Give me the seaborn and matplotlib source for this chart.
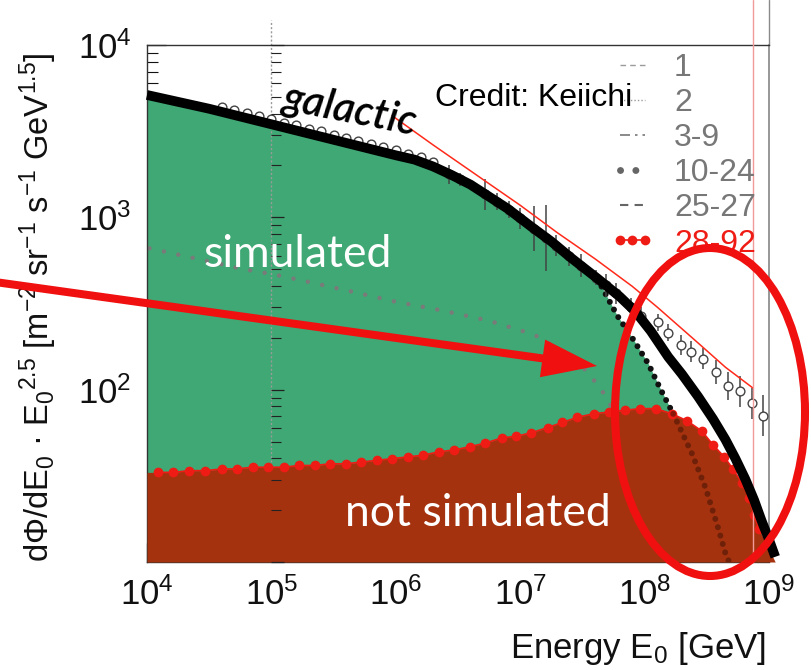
import numpy as np
import pandas as pd
import matplotlib
matplotlib.use("Agg")
import matplotlib.pyplot as plt
import matplotlib.patches as mpatches
import matplotlib.transforms as mtransforms
from matplotlib.lines import Line2D
import seaborn as sns

# ---------------- data (log10 values) ----------------
total_logE = [4.0, 4.5, 5.0, 5.5, 5.75, 6.0, 6.15, 6.3, 6.45, 6.6, 6.75, 6.9, 7.1, 7.25, 7.4, 7.63,
              7.8, 7.93, 8.05, 8.19, 8.3, 8.43, 8.55, 8.65, 8.73, 8.81, 8.88, 8.94, 9.0, 9.05]
total_logF = [3.71, 3.63, 3.54, 3.45, 3.405, 3.36, 3.335, 3.295, 3.245, 3.19, 3.12, 3.05, 2.94, 2.86, 2.77, 2.64,
              2.54, 2.45, 2.34, 2.19, 2.09, 1.96, 1.83, 1.71, 1.60, 1.48, 1.36, 1.24, 1.13, 1.03]

sim_logE = [4.0, 4.5, 5.0, 5.5, 5.75, 6.0, 6.15, 6.3, 6.45, 6.6, 6.75, 6.9, 7.1, 7.25, 7.4, 7.63,
            7.78, 7.91, 8.03, 8.13, 8.23, 8.38, 8.49, 8.59, 8.65, 8.68]
sim_logF = [3.71, 3.63, 3.54, 3.45, 3.405, 3.36, 3.335, 3.295, 3.245, 3.19, 3.12, 3.05, 2.94, 2.86, 2.77, 2.63,
            2.43, 2.29, 2.15, 2.00, 1.86, 1.63, 1.43, 1.20, 1.05, 1.00]

light_logE = [4.02, 4.40, 4.77, 5.01, 5.27, 5.64, 6.00, 6.37, 6.75, 7.11, 7.23, 7.40, 7.53, 7.62, 7.69, 7.80]
light_logF = [2.82, 2.76, 2.70, 2.67, 2.63, 2.57, 2.51, 2.46, 2.40, 2.32, 2.27, 2.20, 2.11, 2.03, 1.96, 1.80]

heavy_logE = [4.09, 4.21, 4.34, 4.47, 4.60, 4.72, 4.85, 4.97, 5.10, 5.22, 5.35, 5.47, 5.60, 5.72,
              5.85, 5.97, 6.10, 6.22, 6.35, 6.47, 6.60, 6.72, 6.85, 6.97, 7.09, 7.22, 7.34, 7.46,
              7.59, 7.71, 7.84, 7.96, 8.09, 8.22, 8.34, 8.46, 8.55, 8.64, 8.71, 8.78, 8.84, 8.88, 8.92]
heavy_logF = [1.52, 1.52, 1.53, 1.53, 1.54, 1.54, 1.55, 1.55, 1.55, 1.56, 1.56, 1.57, 1.57, 1.58,
              1.59, 1.60, 1.61, 1.62, 1.64, 1.65, 1.67, 1.69, 1.72, 1.73, 1.75, 1.78, 1.81, 1.84,
              1.86, 1.87, 1.88, 1.89, 1.89, 1.86, 1.82, 1.76, 1.68, 1.61, 1.54, 1.46, 1.37, 1.27, 1.19]
heavy_fill_logE = [4.0] + heavy_logE + [9.05]
heavy_fill_logF = [1.52] + heavy_logF + [1.00]

model_logE = [5.97, 6.3, 6.6, 7.0, 7.3, 7.6, 7.9, 8.1, 8.4, 8.65, 8.87]
model_logF = [3.59, 3.42, 3.27, 3.07, 2.91, 2.76, 2.60, 2.48, 2.29, 2.13, 2.01]

pts_logE = [4.6, 4.7, 4.8, 4.9, 5.0, 5.1, 5.2, 5.3, 5.4, 5.5, 5.6, 5.7, 5.8, 5.9, 6.0, 6.1, 6.2, 6.3,
            6.43, 6.52, 6.72, 6.81, 6.91, 7.00, 7.11, 7.21, 7.29, 7.39, 7.49, 7.61, 7.69, 7.77, 7.89, 7.97,
            8.11, 8.19, 8.29, 8.37, 8.47, 8.57, 8.67, 8.77, 8.86, 8.95]
pts_logF = [3.64, 3.625, 3.605, 3.59, 3.57, 3.55, 3.535, 3.515, 3.50, 3.48, 3.46, 3.445, 3.425, 3.41, 3.39, 3.37, 3.35, 3.32,
            3.25, 3.22, 3.135, 3.09, 3.045, 2.995, 2.935, 2.88, 2.835, 2.775, 2.72, 2.65, 2.605, 2.56, 2.48, 2.43,
            2.39, 2.33, 2.26, 2.22, 2.18, 2.10, 2.02, 1.99, 1.92, 1.85]
pts_err = [0.01, 0.01, 0.01, 0.01, 0.01, 0.01, 0.01, 0.01, 0.01, 0.01, 0.01, 0.01, 0.01, 0.01, 0.01, 0.01, 0.01, 0.015,
           0.055, 0.04, 0.09, 0.05, 0.05, 0.06, 0.13, 0.19, 0.06, 0.055, 0.065, 0.045, 0.065, 0.06, 0.05, 0.05,
           0.05, 0.05, 0.06, 0.06, 0.06, 0.07, 0.08, 0.09, 0.09, 0.12]

legend_labels = ["1", "2", "3-9", "10-24", "25-27", "28-92"]
xtick_vals = [1e4, 1e5, 1e6, 1e7, 1e8, 1e9]
ytick_vals = [1e2, 1e3, 1e4]
cut_energy_log = 8.87

# ---------------- style ----------------
sns.set_theme(style="ticks")
plt.rcParams["font.family"] = ["Liberation Sans", "DejaVu Sans"]
plt.rcParams["mathtext.fontset"] = "custom"
plt.rcParams["mathtext.rm"] = "Liberation Sans"
plt.rcParams["mathtext.it"] = "Liberation Sans:italic"
plt.rcParams["mathtext.default"] = "regular"

W, H = 812, 670
fig = plt.figure(figsize=(W / 100, H / 100), dpi=100)
L, R, T, B = 147, 769, 45, 562
ax = fig.add_axes([L / W, (H - B) / H, (R - L) / W, (B - T) / H])
ax.set_xscale("log")
ax.set_yscale("log")
ax.set_xlim(1e4, 1e9)
ax.set_ylim(10, 1e4)

def p10(a):
    return 10.0 ** np.asarray(a, dtype=float)

GREEN = "#3fa874"
RED_FILL = "#a5320f"
RED = "#ee1c14"

# green simulated region
ax.fill_between(p10(sim_logE), 10, p10(sim_logF), color=GREEN, lw=0, zorder=1)

# light component (grey dotted)
ax.plot(p10(light_logE), p10(light_logF), color="#7a7a7a", lw=3.2,
        ls=(0, (0.01, 3.3)), dash_capstyle="round", zorder=2)

# dense black dotted curve (high-energy boundary)
hi = [i for i, e in enumerate(sim_logE) if e >= 7.3]
ax.plot(p10([sim_logE[i] for i in hi]), p10([sim_logF[i] for i in hi]), color="#111111", lw=4.3,
        ls=(0, (0.01, 1.45)), dash_capstyle="round", zorder=2.5)

# data points with error bars
pE = p10(pts_logE)
pF = p10(pts_logF)
lo = pF - p10(np.array(pts_logF) - np.array(pts_err))
up = p10(np.array(pts_logF) + np.array(pts_err)) - pF
ax.errorbar(pE, pF, yerr=[lo, up], fmt="none", ecolor="#444444", elinewidth=1.1, zorder=3)
ax.plot(pE, pF, ls="none", marker="o", ms=6.3, mfc="white", mec="#444444", mew=1.0, zorder=3.2)

# red heavy (not simulated) region
ax.fill_between(p10(heavy_fill_logE), 10, p10(heavy_fill_logF), color=RED_FILL, lw=0,
                zorder=4, clip_on=False)
df_heavy = pd.DataFrame({"E": p10(heavy_logE), "F": p10(heavy_logF)})
sns.lineplot(data=df_heavy, x="E", y="F", ax=ax, color=RED, lw=1.2, marker="o",
             markersize=7, markeredgewidth=0, estimator=None, sort=False, zorder=5)

# dotted curve continuing inside the red region
inside = [i for i, e in enumerate(sim_logE) if e >= 8.23]
ax.plot(p10([sim_logE[i] for i in inside]), p10([sim_logF[i] for i in inside]),
        color="#4a1505", alpha=0.6, lw=4.3, ls=(0, (0.01, 1.45)), dash_capstyle="round", zorder=5.2)

# thin red model line
df_model = pd.DataFrame({"E": p10(model_logE), "F": p10(model_logF)})
sns.lineplot(data=df_model, x="E", y="F", ax=ax, color="#ff2a1a", lw=1.1,
             estimator=None, sort=False, zorder=5.5)

# thick black total line
df_total = pd.DataFrame({"E": p10(total_logE), "F": p10(total_logF)})
sns.lineplot(data=df_total, x="E", y="F", ax=ax, color="black", lw=7,
             estimator=None, sort=False, zorder=6)
ax.lines[-1].set_clip_on(False)
ax.lines[-1].set_solid_capstyle("butt")
ax.lines[-1].set_solid_joinstyle("round")

# vertical guide lines
ax.axvline(1e5, ymin=0, ymax=(B - 20) / (B - T), color="#9a9a9a", lw=1.0, ls=(0, (1.5, 1.5)),
           clip_on=False, zorder=2)
ax.axvline(p10(cut_energy_log), ymin=0, ymax=B / (B - T), color="#f29a9a", lw=1.0,
           clip_on=False, zorder=5.6)
ax.axvline(1e9, ymin=1, ymax=B / (B - T), color="#8a8a8a", lw=1.0, clip_on=False)

# axis cosmetics
ax.set_xticks(xtick_vals)
ax.set_yticks(ytick_vals)
ax.tick_params(axis="both", which="major", direction="in", length=14, width=0.9,
               labelsize=25, colors="#111111")
ax.tick_params(axis="both", which="minor", direction="in", length=8, width=0.8, colors="#111111")
ax.tick_params(axis="x", which="major", pad=11)
ax.tick_params(axis="y", which="major", pad=11)
for s in ["left", "bottom", "top"]:
    ax.spines[s].set_color("#333333")
    ax.spines[s].set_linewidth(1.0)
ax.spines["right"].set_color("#8a8a8a")
ax.set_xlabel("")
ax.set_ylabel("")

# small tick column along the 1e5 guide line
ax5 = fig.add_axes([(L + (R - L) / 5) / W, (H - B) / H, 0.0005, (B - T) / H])
ax5.set_yscale("log")
ax5.set_ylim(10, 1e4)
ax5.patch.set_visible(False)
for s in ax5.spines.values():
    s.set_visible(False)
ax5.set_xticks([])
ax5.tick_params(axis="y", which="both", direction="in", labelleft=False, color="#222222")
ax5.tick_params(axis="y", which="major", length=9, width=0.9)
ax5.tick_params(axis="y", which="minor", length=7, width=0.8)

# labels
fig.text(766 / W, (H - 658) / H, "Energy E$_0$ [GeV]", ha="right", va="baseline",
         fontsize=25, color="#111111")
fig.text(38 / W, (H - 307) / H,
         "dΦ/dE$_0$ · E$_0{}^{2.5}$ [m$^{-2}$ sr$^{-1}$ s$^{-1}$ GeV$^{1.5}$]",
         rotation=90, ha="center", va="center", fontsize=23.5, color="#111111")

fig.text(350 / W, (H - 110) / H, "galactic", rotation=-11, ha="center", va="center",
         fontsize=30, family="Lato", style="italic", weight="semibold", color="black", zorder=8)
fig.text(435 / W, (H - 106) / H, "Credit: Keiichi", ha="left", va="baseline",
         fontsize=23, color="black", zorder=8)
fig.text(203 / W, (H - 267) / H, "simulated", ha="left", va="baseline", fontsize=32,
         family="Lato", color="white", zorder=8)
fig.text(345 / W, (H - 526) / H, "not simulated", ha="left", va="baseline", fontsize=32,
         family="Lato", color="white", zorder=8)

# legend
handles = [
    Line2D([], [], color="#9a9a9a", lw=1.0, ls=(0, (4, 3))),
    Line2D([], [], color="#9a9a9a", lw=1.0, ls=(0, (1, 1.5))),
    Line2D([], [], color="#777777", lw=1.2, ls=(0, (6, 3, 1.5, 3))),
    Line2D([], [], color="#666666", lw=5, ls=(0, (0.01, 2.2)), dash_capstyle="round"),
    Line2D([], [], color="#666666", lw=1.5, ls=(0, (4, 3))),
    Line2D([], [], color=RED, lw=1.2, marker="o", ms=7, mew=0),
]
leg = ax.legend(handles, legend_labels, loc="upper left",
                bbox_to_anchor=(610 / W, (H - 53) / H), bbox_transform=fig.transFigure,
                frameon=False, fontsize=23, handlelength=1.4, handletextpad=0.6,
                labelspacing=0.16, borderpad=0, borderaxespad=0, numpoints=3,
                labelcolor=["#777777"] * 5 + [RED])
leg.set_zorder(9)

# annotation: red arrow and ellipse (pixel coordinates)
ident = mtransforms.IdentityTransform()
arrow = mpatches.FancyArrow(-5, H - 282, 602, -84, width=8, head_width=38, head_length=55,
                            length_includes_head=True, color="#f01010", lw=0,
                            transform=ident, zorder=20)
fig.add_artist(arrow)
ell = mpatches.Ellipse((710, H - 412), 190, 328, fill=False, lw=5.8, edgecolor="#f01010",
                       transform=ident, zorder=20)
fig.add_artist(ell)

fig.savefig("out.png", dpi=100)
